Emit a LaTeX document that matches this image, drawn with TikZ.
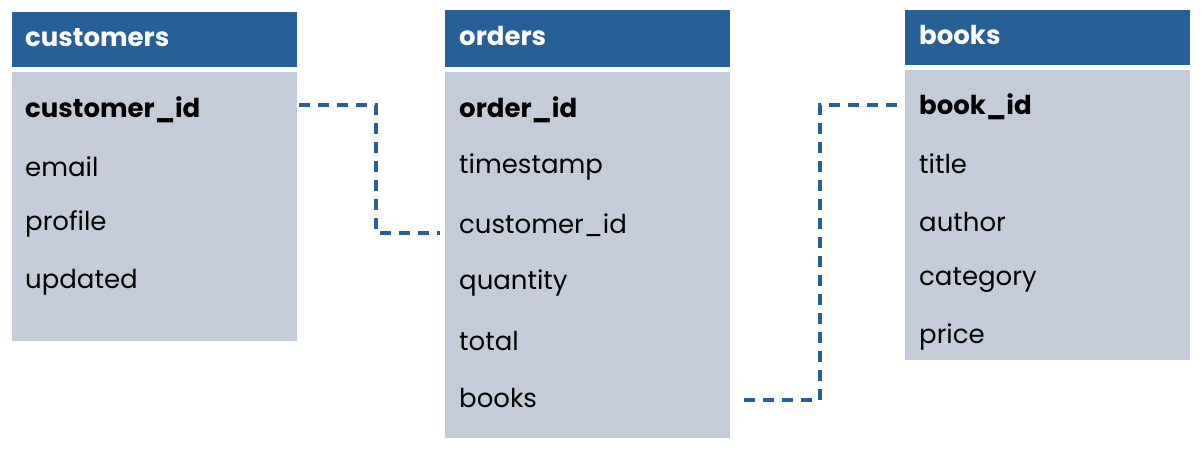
\documentclass[tikz,border=0pt]{standalone}
\usepackage{fontspec}
\setmainfont{Poppins}
\definecolor{hdr}{HTML}{266096}
\definecolor{bdy}{HTML}{C5CCD9}
\begin{document}
\begin{tikzpicture}[x=1pt,y=-1pt,
  hdrbox/.style={fill=hdr},
  bdybox/.style={fill=bdy},
  htxt/.style={anchor=west,text=white,font=\fontsize{26}{30}\selectfont\bfseries,inner sep=0},
  ftxt/.style={anchor=west,text=black,font=\fontsize{26}{30}\selectfont,inner sep=0},
  ktxt/.style={ftxt,font=\fontsize{26}{30}\selectfont\bfseries},
  link/.style={draw=hdr,line width=3.5pt,dash pattern=on 11pt off 8pt}]
\useasboundingbox (0,0) rectangle (1201,451);
\fill[hdrbox] (12,12) rectangle (297,67);
\fill[bdybox] (12,72) rectangle (297,341);
\fill[hdrbox] (445,10) rectangle (730,67);
\fill[bdybox] (445,72) rectangle (730,438);
\fill[hdrbox] (905,10) rectangle (1190,65);
\fill[bdybox] (905,70) rectangle (1190,360);
\node[htxt] (ch) at (25,38) {customers};
\node[ktxt] (c1) at (25,110) {customer\_id};
\node[ftxt] (c2) at (25,167) {email};
\node[ftxt] (c3) at (25,224) {profile};
\node[ftxt] (c4) at (25,282) {updated};
\node[htxt] (oh) at (459,36) {orders};
\node[ktxt] (o1) at (459,110) {order\_id};
\node[ftxt] (o2) at (459,167) {timestamp};
\node[ftxt] (o3) at (459,225) {customer\_id};
\node[ftxt] (o4) at (459,283) {quantity};
\node[ftxt] (o5) at (459,341) {total};
\node[ftxt] (o6) at (459,398) {books};
\node[htxt] (bh) at (919,35) {books};
\node[ktxt] (b1) at (919,107) {book\_id};
\node[ftxt] (b2) at (919,164) {title};
\node[ftxt] (b3) at (919,222) {author};
\node[ftxt] (b4) at (919,280) {category};
\node[ftxt] (b5) at (919,337) {price};
\coordinate (a1) at (299,105);
\coordinate (a2) at (440,233);
\coordinate (d1) at (744,400);
\coordinate (d2) at (905,105);
\draw[link] (a1) -- (376,105) -- (376,233) -- (a2);
\draw[link] (d1) -- (820,400) -- (820,105) -- (d2);
\end{tikzpicture}
\end{document}
